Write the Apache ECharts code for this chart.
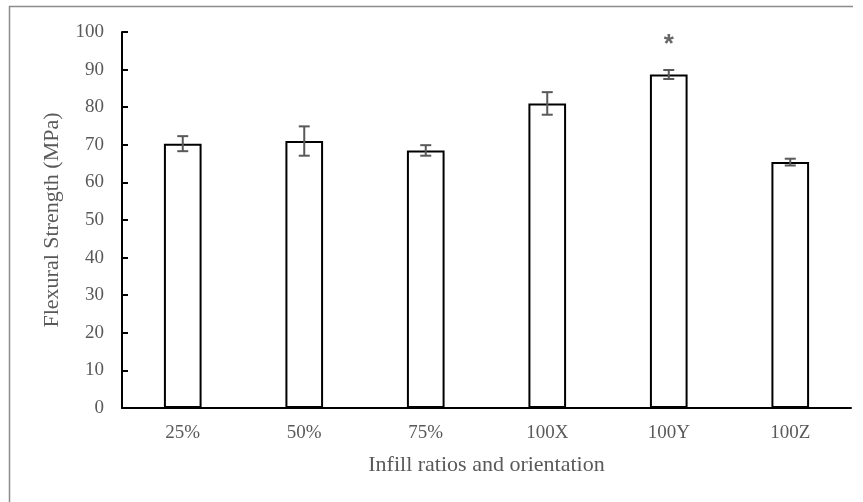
<!DOCTYPE html>
<html><head><meta charset="utf-8">
<script src="https://cdn.jsdelivr.net/npm/echarts@6/dist/echarts.min.js"></script>
<style>html,body{margin:0;padding:0;background:#fff}#c{width:863px;height:502px}</style>
</head><body><div id="c"></div>
<script>
var categories = ['25%', '50%', '75%', '100X', '100Y', '100Z'];
var strength = [70.3, 71.0, 68.5, 81.0, 88.7, 65.4];
var errors = [2.0, 3.9, 1.4, 3.0, 1.2, 0.9];
var significance = ['', '', '', '', '*', ''];
var yTicks = [0, 100, 10];

var chart = echarts.init(document.getElementById('c'), null, {renderer: 'canvas'});
var font = 'Liberation Serif';
var errData = categories.map(function (c, i) { return [i, strength[i] - errors[i], strength[i] + errors[i]]; });
var starData = [];
significance.forEach(function (s, i) { if (s) starData.push({value: [i, strength[i] + errors[i] + 6.6], label: {formatter: s}}); });

chart.setOption({
  animation: false,
  graphic: [
    {type: 'line', shape: {x1: 9, y1: 6.5, x2: 853, y2: 6.5}, style: {stroke: '#8c8c8c', lineWidth: 1.5}},
    {type: 'line', shape: {x1: 9.5, y1: 6, x2: 9.5, y2: 502}, style: {stroke: '#8c8c8c', lineWidth: 1.5}}
  ],
  grid: {left: 122, right: 12, top: 32, bottom: 94},
  xAxis: {
    type: 'category', data: categories,
    name: 'Infill ratios and orientation', nameLocation: 'middle', nameGap: 46,
    nameTextStyle: {fontFamily: font, fontSize: 22, color: '#595959'},
    axisLine: {lineStyle: {color: '#000', width: 2}},
    axisTick: {inside: true, length: 5, lineStyle: {color: '#000', width: 2}},
    axisLabel: {fontFamily: font, fontSize: 19, color: '#595959', margin: 16}
  },
  yAxis: {
    type: 'value', min: yTicks[0], max: yTicks[1], interval: yTicks[2],
    name: 'Flexural Strength (MPa)', nameLocation: 'middle', nameGap: 59,
    nameTextStyle: {fontFamily: font, fontSize: 22, color: '#595959'},
    axisLine: {show: true, lineStyle: {color: '#000', width: 2}},
    axisTick: {show: true, inside: true, length: 6, lineStyle: {color: '#000', width: 2}},
    axisLabel: {fontFamily: font, fontSize: 19, color: '#595959', margin: 18},
    splitLine: {show: false}
  },
  series: [
    {
      type: 'bar', data: strength, barWidth: '31%',
      itemStyle: {color: '#fff', borderColor: '#000', borderWidth: 2}
    },
    {
      type: 'custom', data: errData, z: 10,
      renderItem: function (params, api) {
        var x = api.value(0);
        var lo = api.coord([x, api.value(1)]);
        var hi = api.coord([x, api.value(2)]);
        var hw = 5.5;
        var st = {stroke: '#595959', lineWidth: 2};
        return {type: 'group', children: [
          {type: 'line', shape: {x1: lo[0], y1: lo[1], x2: hi[0], y2: hi[1]}, style: st},
          {type: 'line', shape: {x1: lo[0] - hw, y1: lo[1], x2: lo[0] + hw, y2: lo[1]}, style: st},
          {type: 'line', shape: {x1: hi[0] - hw, y1: hi[1], x2: hi[0] + hw, y2: hi[1]}, style: st}
        ]};
      }
    },
    {
      type: 'scatter', data: starData, symbolSize: 0,
      label: {show: true, position: 'inside', fontFamily: 'Liberation Sans', fontSize: 26, fontWeight: 'bold', color: '#404040'}
    }
  ]
});
</script></body></html>
